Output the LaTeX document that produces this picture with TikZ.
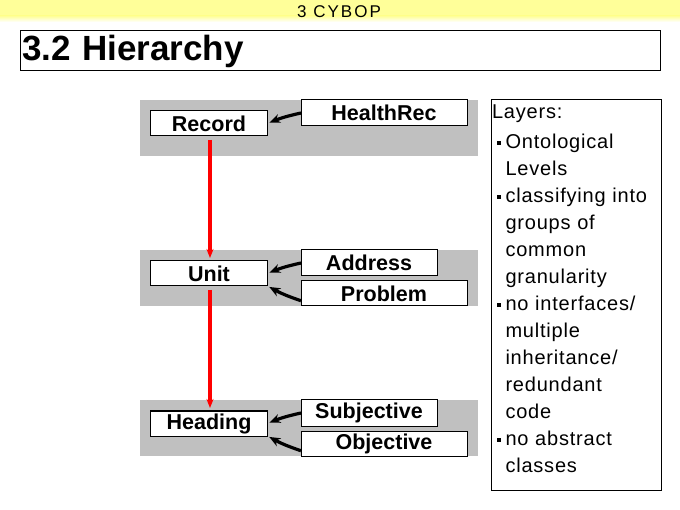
\documentclass[tikz,border=0pt]{standalone}
\usepackage{fontspec}
\setmainfont{Liberation Sans}
\newfontfamily\bannerfont[LetterSpace=12]{Liberation Sans}
\newfontfamily\notefont[LetterSpace=4]{Liberation Sans}
\usetikzlibrary{positioning, arrows.meta, backgrounds}
\definecolor{bannerYellow}{RGB}{255,255,153}
\definecolor{layerGray}{RGB}{192,192,192}
\tikzset{
every node/.style = {inner sep = 0pt, outer sep = 0pt},
layer/.style = {rectangle, fill = layerGray, minimum width = 338pt,
   minimum height = 56pt, anchor = north west},
concept/.style = {rectangle, draw, line width = 1pt, fill = white, minimum width = 117pt,
   minimum height = 25pt, font = \fontsize{21.5}{24}\selectfont\bfseries},
item/.style = {rectangle, draw, line width = 1pt, fill = white, minimum width = 166pt,
   minimum height = 26pt, anchor = north west, font = \fontsize{21.5}{24}\selectfont\bfseries},
composition/.style = {-{Stealth[length = 9pt, width = 7pt]}, red, line width = 3.2pt,
   shorten < = 4pt, shorten > = 3pt},
inheritance/.style = {-{Stealth[length = 11pt, width = 9pt]}, line width = 3.2pt,
   shorten > = 2pt},
titlebox/.style = {rectangle, draw, line width = 1pt, minimum width = 640pt,
   minimum height = 40pt, text width = 636pt, inner xsep = 2pt, align = left,
   anchor = north west, font = \fontsize{35}{40}\selectfont\bfseries},
notebox/.style = {rectangle, draw, line width = 1pt, minimum width = 170pt,
   minimum height = 390pt, anchor = north west}
}
\newcommand{\lbullet}{\makebox[13.5pt][l]{\hspace{5pt}\rule[4pt]{4pt}{4pt}}}
\newcommand{\lindent}{\hspace*{13.5pt}}

\begin{document}
\begin{tikzpicture}[x = 1pt, y = -1pt]
\useasboundingbox (0,0) rectangle (680,510);

%% Banner and title
\fill [bannerYellow] (0,0) rectangle (680,16);
\shade [top color = bannerYellow, bottom color = white] (0,16) rectangle (680,22);
\node [font = \bannerfont\fontsize{17}{20}\selectfont] (banner) at (339,11.5) {3 CYBOP};
\node [titlebox] (title) at (20,31) {3.2 Hierarchy};

%% Layers
\node [layer] (band1) at (140,100) {};
\node [layer] (band2) at (140,250) {};
\node [layer] (band3) at (140,400) {};

%% Concepts
\node [concept] (record) at (209,123.5) {Record};
\node [concept] (unit) [below = 125pt of record] {Unit};
\node [concept] (heading) [below = 125pt of unit] {Heading};

\node [item] (healthrec) at (301,100) {HealthRec};
\node [item, minimum width = 136pt] (address) at (301,250) {Address};
\node [item, minimum height = 25pt] (problem) at (301,281) {Problem};
\node [item, minimum width = 136pt] (subjective) at (301,400) {Subjective};
\node [item, minimum height = 25pt] (objective) at (301,431) {Objective};

%% Compositions
\path [composition] ([xshift = 1pt]record.south) edge ([xshift = 1pt]unit.north);
\path [composition] ([xshift = 1pt]unit.south) edge ([xshift = 1pt]heading.north);

%% Inheritances
\path [inheritance] (healthrec.west) edge [bend right = 5] (record.east);
\path [inheritance] (address.west) edge [bend right = 5] (unit.east);
\path [inheritance] (problem.185) edge [bend left = 5] (unit.south east);
\path [inheritance] (subjective.west) edge [bend right = 5] (heading.east);
\path [inheritance] (objective.185) edge [bend left = 5] (heading.south east);

%% Notes
\node [notebox] (notes) at (491,100) {};
\node [anchor = base west, text width = 166pt, align = left,
   font = \notefont\fontsize{20}{27}\selectfont] (layers) at (492,119) {Layers:\\[3pt]
\lbullet Ontological\\
\lindent Levels\\
\lbullet classifying into\\
\lindent groups of\\
\lindent common\\
\lindent granularity\\
\lbullet no interfaces/\\
\lindent multiple\\
\lindent inheritance/\\
\lindent redundant\\
\lindent code\\
\lbullet no abstract\\
\lindent classes};

\end{tikzpicture}
\end{document}
